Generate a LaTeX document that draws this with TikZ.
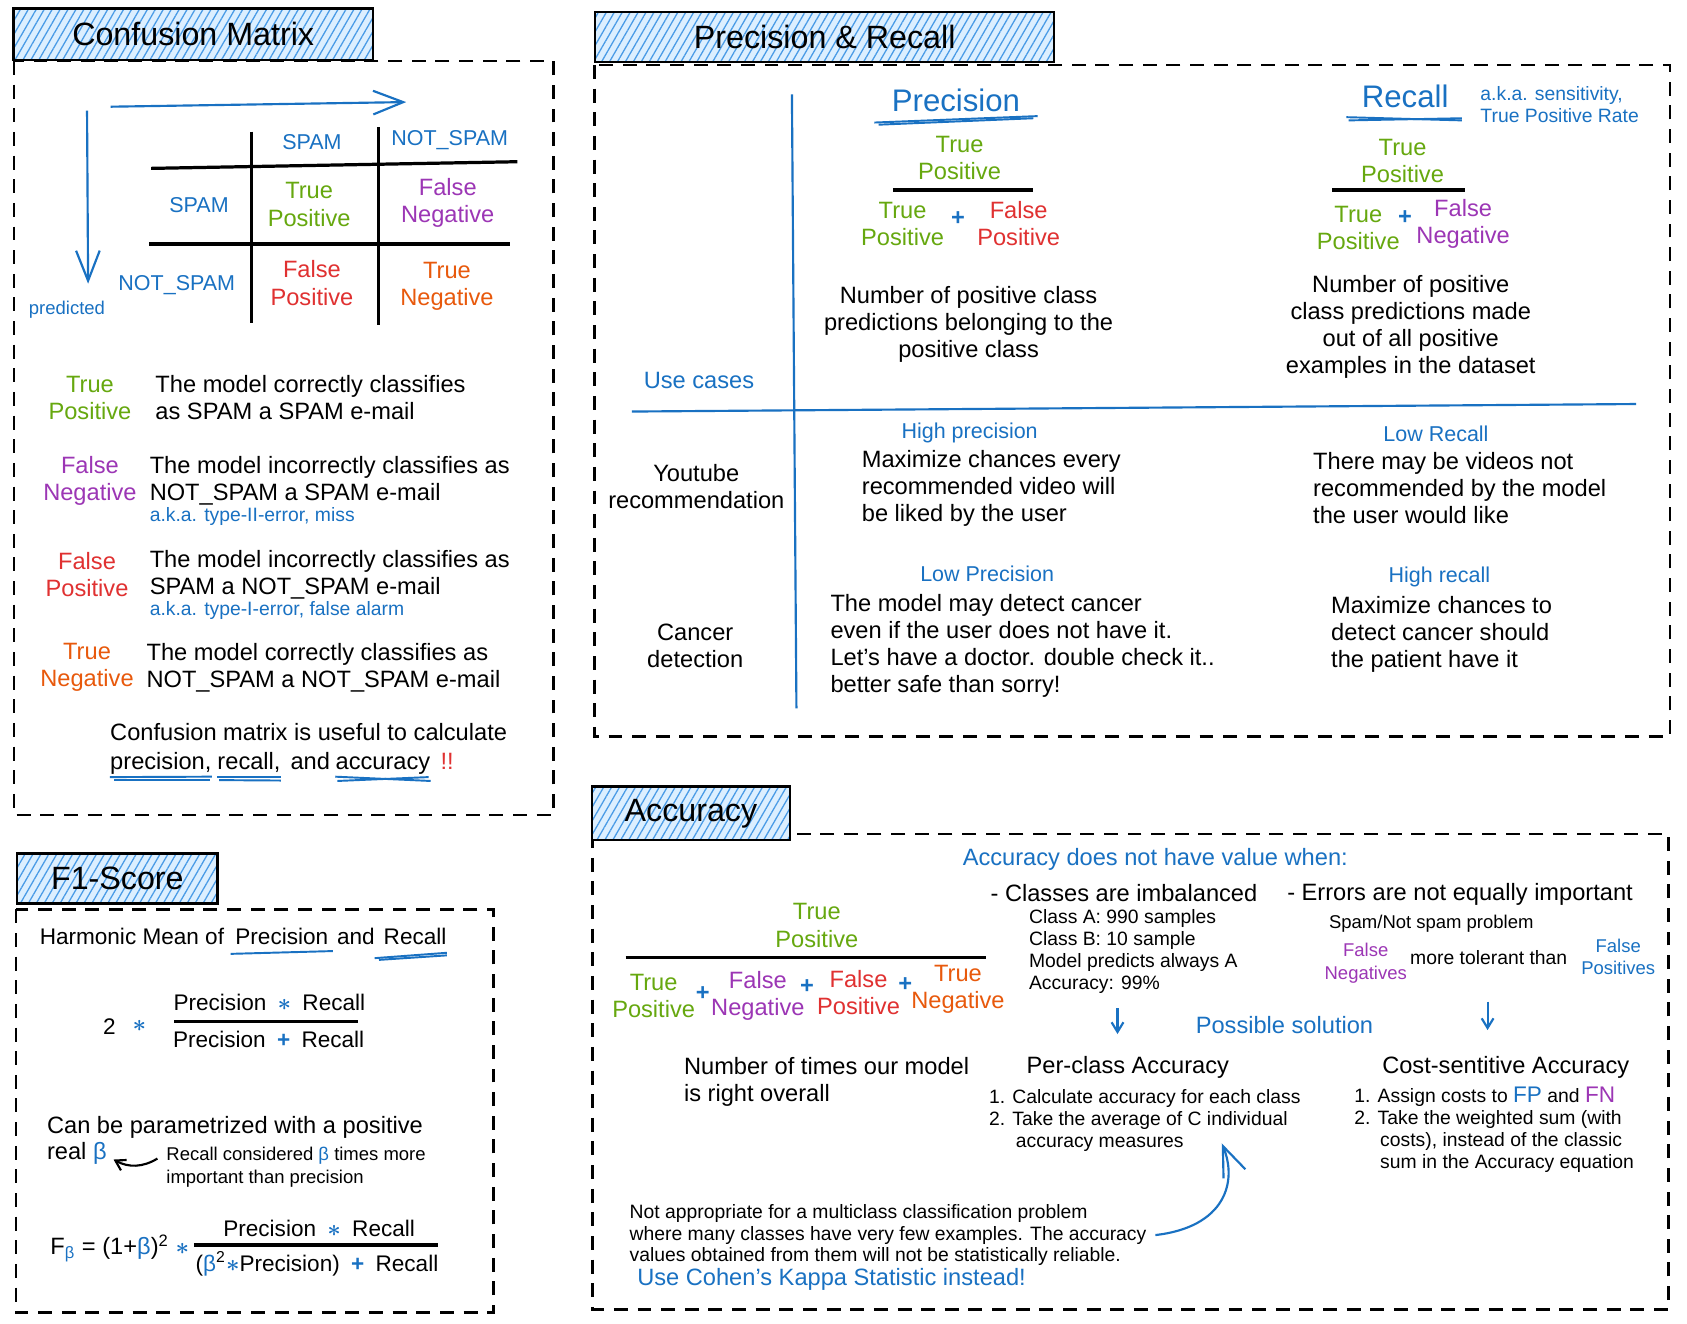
\documentclass[tikz,border=0pt]{standalone}
\usepackage{fontspec}
\setmainfont{Liberation Sans}
\usepackage{tikz}
\usetikzlibrary{arrows.meta}
\usetikzlibrary{patterns.meta}

\definecolor{blu}{HTML}{1971C2}
\definecolor{tpc}{HTML}{66A80F}
\definecolor{fnc}{HTML}{9C36B5}
\definecolor{fpc}{HTML}{E03131}
\definecolor{tnc}{HTML}{E8590C}
\definecolor{hatchbg}{HTML}{DCEFFF}
\definecolor{hatchln}{HTML}{4A9BE6}

\newcommand\fttl{\fontsize{15}{18}\selectfont}
\newcommand\fhead{\fontsize{14.5}{17}\selectfont}
\newcommand\fbody{\fontsize{11}{12.6}\selectfont}
\newcommand\fmid{\fontsize{10.5}{12}\selectfont}
\newcommand\fsub{\fontsize{10}{12}\selectfont}
\newcommand\fsmall{\fontsize{9}{10.2}\selectfont}
\newcommand\ftiny{\fontsize{8.6}{10.4}\selectfont}
\newcommand\mul{{\color{blu}\boldmath$\ast$}}

\begin{document}
\begin{tikzpicture}[x=0.5pt, y=-0.5pt,
    >={Straight Barb[length=4.5pt,width=5.5pt]},
    every node/.style={inner sep=0pt, align=center, font=\fbody},
    titlebox/.style={draw=black, line width=1.1pt, font=\fttl,
        preaction={fill=hatchbg},
        pattern={Lines[angle=60,distance=3.2pt,line width=0.6pt]}, pattern color=hatchln},
    panel/.style={draw=black, line width=1.2pt, dash pattern=on 6.5pt off 4.5pt},
    tabline/.style={draw=black, line width=1.5pt},
    fracbar/.style={draw=black, line width=1.5pt},
    sepline/.style={draw=blu, line width=1pt},
    arr/.style={->, draw=blu, line width=1pt},
    bighead/.style={-{Straight Barb[length=14pt,width=11pt]}},
    ul/.style={draw=blu, line width=0.9pt},
    hd/.style={font=\fhead, text=blu},
    subh/.style={font=\fsub, text=blu},
    mfont/.style={font=\fmid},
    sm/.style={font=\fsmall},
    xs/.style={font=\ftiny},
    desc/.style={anchor=west, align=left},
    word/.style={anchor=base west},
    tp/.style={text=tpc}, fn/.style={text=fnc},
    fp/.style={text=fpc}, tn/.style={text=tnc},
    bl/.style={text=blu},
    plus/.style={text=blu, font=\fbody\bfseries}]

    \path[use as bounding box, fill=white] (0,0) rectangle (1570,1232);

    % panels and titles
    \draw[panel] (13.2,56.8) rectangle (515,758.5);
    \draw[panel] (553.1,60.5) rectangle (1554,685.3);
    \draw[panel] (14.9,846.3) rectangle (459.2,1221.7);
    \draw[panel] (551.5,776.3) rectangle (1552.7,1218.5);

    \node[titlebox, minimum width=167.3pt, minimum height=24pt]   (cmtitle) at (179.8,31.8)  {Confusion Matrix};
    \node[titlebox, minimum width=213.5pt, minimum height=23.3pt] (prtitle) at (767.5,34.2)  {Precision \& Recall};
    \node[titlebox, minimum width=93.1pt,  minimum height=23.3pt] (f1title) at (109.2,817.5) {F1-Score};
    \node[titlebox, minimum width=92.2pt,  minimum height=24.8pt] (actitle) at (643,756.9)   {Accuracy};

    % confusion matrix
    \coordinate (act0) at (103,99.3);
    \coordinate (act1) at (378,95);
    \coordinate (pre0) at (81,103);
    \coordinate (pre1) at (82,264);
    \draw[arr, bighead] (act0) -- (act1);
    \draw[arr, bighead] (pre0) -- (pre1);
    \node[xs, bl]        (pred)  at (62.3,288.5)  {predicted};

    \draw[tabline] (234,122.5) -- (234,301);
    \draw[tabline] (352.6,118.5) -- (352.6,302.5);
    \draw[tabline] (140.7,156.7) -- (481.5,150.5);
    \draw[tabline] (138.9,227) -- (474.4,227);

    \node[subh]          (cspam) at (290.3,131.9) {SPAM};
    \node[subh]          (cnot)  at (418.5,130.3) {NOT\_SPAM};
    \node[subh]          (rspam) at (185.2,190.8) {SPAM};
    \node[subh]          (rnot)  at (164.5,265.2) {NOT\_SPAM};
    \node[tp]            (ctp)   at (287.7,190.3) {True\\Positive};
    \node[fn]            (cfn)   at (416.7,189)   {False\\Negative};
    \node[fp]            (cfp)   at (290.3,263.4) {False\\Positive};
    \node[tn]            (ctn)   at (416,266.2)   {True\\Negative};

    \node[tp]            (ltp)   at (83.7,370)    {True\\Positive};
    \node[desc]          (dtp)   at (144.3,370)   {The model correctly classifies\\as SPAM a SPAM e-mail};
    \node[fn]            (lfn)   at (83.7,447.5)  {False\\Negative};
    \node[desc]          (dfn)   at (139,447.5)   {The model incorrectly classifies as\\NOT\_SPAM a SPAM e-mail};
    \node[desc, sm, bl]  (afn)   at (139,480.8)   {a.k.a. type-II-error, miss};
    \node[fp]            (lfp)   at (81,535.1)    {False\\Positive};
    \node[desc]          (dfp)   at (139,535.1)   {The model incorrectly classifies as\\SPAM a NOT\_SPAM e-mail};
    \node[desc, sm, bl]  (afp)   at (139,568.3)   {a.k.a. type-I-error, false alarm};
    \node[tn]            (ltn)   at (81,621.1)    {True\\Negative};
    \node[desc]          (dtn)   at (136,621.1)   {The model correctly classifies as\\NOT\_SPAM a NOT\_SPAM e-mail};

    \node[word]          (cmu)   at (102.2,689.5) {Confusion matrix is useful to calculate};
    \node[word]          (wprc)  at (102.2,716)   {precision,};
    \node[word]          (wrec)  at (202,716)     {recall,};
    \node[word]          (wand)  at (270,716)     {and};
    \node[word]          (wacc)  at (312,716)     {accuracy};
    \node[word, fp]      (wexc)  at (409.6,716)   {!!};
    \draw[ul] ([yshift=-3.6pt]wprc.base west) -- ([yshift=-3.4pt]wprc.base east);
    \draw[ul] ([xshift=2pt,yshift=-5pt]wprc.base west) -- ([xshift=-1pt,yshift=-5pt]wprc.base east);
    \draw[ul] ([yshift=-3.6pt]wrec.base west) -- ([yshift=-3.6pt]wrec.base east);
    \draw[ul] ([xshift=1pt,yshift=-5pt]wrec.base west) -- ([yshift=-5.2pt]wrec.base east);
    \draw[ul] ([yshift=-3.4pt]wacc.base west) -- ([yshift=-5.4pt]wacc.base east);
    \draw[ul] ([xshift=1pt,yshift=-5.4pt]wacc.base west) -- ([xshift=-1pt,yshift=-3.6pt]wacc.base east);

    % precision and recall
    \draw[sepline] (737,87.8) -- (741.2,659.2);
    \draw[sepline] (588,383) -- (1522.6,376);

    \node[hd]            (ph)    at (889.7,93)    {Precision};
    \draw[ul] ([xshift=-8pt,yshift=-5pt]ph.south west) -- ([xshift=8pt,yshift=-2pt]ph.south east);
    \draw[ul] ([xshift=-6pt,yshift=-6pt]ph.south west) -- ([xshift=6pt,yshift=-3pt]ph.south east);
    \node[tp]            (pnum)  at (893,147.4)   {True\\Positive};
    \draw[fracbar] (831,176.8) -- (961.3,176.8);
    \node[tp]            (pden1) at (840,208.6)   {True\\Positive};
    \node[plus]          (pplus) at (891.5,203.2) {+};
    \node[fp]            (pden2) at (948,208.3)   {False\\Positive};
    \node                (pdesc) at (901.4,301.7) {Number of positive class\\predictions belonging to the\\positive class};

    \node[hd]            (rh)    at (1307.7,90)   {Recall};
    \draw[ul] ([xshift=-7pt,yshift=-4pt]rh.south west) -- ([xshift=6pt,yshift=-5.5pt]rh.south east);
    \draw[ul] ([xshift=-6pt,yshift=-5.5pt]rh.south west) -- ([xshift=6pt,yshift=-4.5pt]rh.south east);
    \node[desc, sm, bl]  (raka)  at (1377.4,97.7) {a.k.a. sensitivity,\\True Positive Rate};
    \node[tp]            (rnum)  at (1305.3,149.7) {True\\Positive};
    \draw[fracbar] (1239.7,176.8) -- (1363.4,176.8);
    \node[tp]            (rden1) at (1264.1,211.8) {True\\Positive};
    \node[plus]          (rplus) at (1307.6,202.3) {+};
    \node[fn]            (rden2) at (1361.6,208.6) {False\\Negative};
    \node                (rdesc) at (1312.9,304)  {Number of positive\\class predictions made\\out of all positive\\examples in the dataset};

    \node[bl]            (uc)    at (650.5,353.7) {Use cases};
    \node                (yt)    at (648,452.9)   {Youtube\\recommendation};
    \node                (cd)    at (647,601.2)   {Cancer\\detection};
    \node[subh]          (hp)    at (902.4,403.3) {High precision};
    \node[desc]          (hpd)   at (801.7,454.5) {Maximize chances every\\recommended video will\\be liked by the user};
    \node[subh]          (lr)    at (1336.4,403.3) {Low Recall};
    \node[desc]          (lrd)   at (1221.7,454.5) {There may be videos not\\recommended by the model\\the user would like};
    \node[subh]          (lp)    at (918.7,533.6) {Low Precision};
    \node[desc]          (lpd)   at (772.5,601)   {The model may detect cancer\\even if the user does not have it.\\Let's have a doctor. double check it..\\better safe than sorry!};
    \node[subh]          (hr)    at (1339.6,536.7) {High recall};
    \node[desc]          (hrd)   at (1238.5,590)  {Maximize chances to\\detect cancer should\\the patient have it};

    % f1-score
    \node[word, mfont]   (hm)    at (36.6,878.7)  {Harmonic Mean of};
    \node[word, mfont]   (hmp)   at (218.7,878.7) {Precision};
    \node[word, mfont]   (hma)   at (313.3,878.7) {and};
    \node[word, mfont]   (hmr)   at (356.7,878.7) {Recall};
    \draw[ul] ([xshift=-2pt,yshift=-4.5pt]hmp.base west) -- ([xshift=2pt,yshift=-3.2pt]hmp.base east);
    \draw[ul] ([xshift=-4pt,yshift=-6.5pt]hmr.base west) -- ([yshift=-4pt]hmr.base east);
    \draw[ul] ([xshift=-2pt,yshift=-7.3pt]hmr.base west) -- ([yshift=-5.2pt]hmr.base east);

    \node[mfont]         (two)   at (101.7,955.5) {2};
    \node[mfont]         (tms)   at (129.7,955)   {\mul};
    \node[mfont]         (f1n)   at (250.7,932.8) {Precision\enspace\mul\enspace Recall};
    \draw[fracbar] (162,950.8) -- (333.5,950.8);
    \node[mfont]         (f1d)   at (250,967.3)   {Precision\enspace{\color{blu}\bfseries +}\enspace Recall};

    \node[word]          (cbp)   at (43.4,1054.9) {Can be parametrized with a positive};
    \node[word]          (rb)    at (43.4,1078.8) {real {\color{blu}β}};
    \node[desc, xs]      (rc)    at (154.5,1086.2) {Recall considered {\color{blu}β} times more\\important than precision};
    \draw[->, line width=1pt] ([xshift=-4pt,yshift=4pt]rc.west) to[bend left=30] ([xshift=3pt,yshift=-3pt]rb.east);

    \node[anchor=west]   (fbl)   at (46.5,1161.8) {F\textsubscript{\color{blu}β} = (1+{\color{blu}β})\textsuperscript{2} \mul};
    \node[mfont]         (fbn)   at (297,1143.2)  {Precision\enspace\mul\enspace Recall};
    \draw[fracbar] (180.5,1158.7) -- (408,1158.7);
    \node[mfont]         (fbd)   at (295,1176.4)  {({\color{blu}β}\textsuperscript{2}\mul Precision)\enspace{\color{blu}\bfseries +}\enspace Recall};

    % accuracy
    \node[tp]            (anum)  at (760.2,861.3) {True\\Positive};
    \draw[fracbar] (582.3,891.3) -- (917.3,891.3);
    \node[tp]            (aden1) at (608.3,927.2) {True\\Positive};
    \node[plus]          (apl1)  at (654,925)     {+};
    \node[fn]            (aden2) at (705.3,926.5) {False\\Negative};
    \node[plus]          (apl2)  at (751,918.5)   {+};
    \node[fp]            (aden3) at (799,923.4)   {False\\Positive};
    \node[plus]          (apl3)  at (842.5,916.5) {+};
    \node[tn]            (aden4) at (891.5,921)   {True\\Negative};
    \node[desc]          (anote) at (636.2,1006.7) {Number of times our model\\is right overall};

    \node[desc, bl]      (anv)   at (895.6,799.8) {Accuracy does not have value when:};
    \node[desc]          (cim)   at (921.5,830.8) {- Classes are imbalanced};
    \node[desc, sm]      (cls)   at (957.3,885.2) {Class A: 990 samples\\Class B: 10 sample\\Model predicts always A\\Accuracy: 99\%};
    \node[desc]          (err)   at (1197.6,832)  {- Errors are not equally important};
    \node[desc, xs]      (spm)   at (1236.5,860)  {Spam/Not spam problem};
    \node[xs, fn]        (tfn)   at (1271,896.5)  {False\\Negatives};
    \node[desc, sm]      (tol)   at (1312,891)    {more tolerant than};
    \node[xs, bl]        (tfp)   at (1506,890.6)  {False\\Positives};

    \coordinate (s1a) at (1040,938.4);
    \coordinate (s1b) at (1040,962.3);
    \coordinate (s2a) at (1384.4,932.2);
    \coordinate (s2b) at (1384.4,958.6);
    \draw[arr] (s1a) -- (s1b);
    \draw[arr] (s2a) -- (s2b);
    \node[bl]            (sol)   at (1195.4,954)  {Possible solution};

    \node                (pca)   at (1049.6,993.3) {Per-class Accuracy};
    \node[desc, sm]      (pcl)   at (920.1,1042.4) {1. Calculate accuracy for each class\\2. Take the average of C individual\\\hspace*{12.5pt}accuracy measures};
    \node                (csa)   at (1401.3,993.3) {Cost-sentitive Accuracy};
    \node[desc, sm]      (csl)   at (1260.1,1051.6) {1. Assign costs to {\fontsize{10.5}{10.2}\selectfont\color{blu}FP} and {\fontsize{10.5}{10.2}\selectfont\color{fnc}FN}\\2. Take the weighted sum (with\\\hspace*{12pt}costs), instead of the classic\\\hspace*{12pt}sum in the Accuracy equation};

    \node[desc, sm]      (nap)   at (585.6,1149.4) {Not appropriate for a multiclass classification problem\\where many classes have very few examples. The accuracy\\values obtained from them will not be statistically reliable.};
    \node[desc, bl]      (kap)   at (592.7,1190.6) {Use Cohen's Kappa Statistic instead!};
    \coordinate (pct) at (1137,1064);
    \draw[arr, bighead] ([xshift=4pt]nap.east) .. controls (1140,1142) and (1152,1100) .. (pct);
\end{tikzpicture}
\end{document}
